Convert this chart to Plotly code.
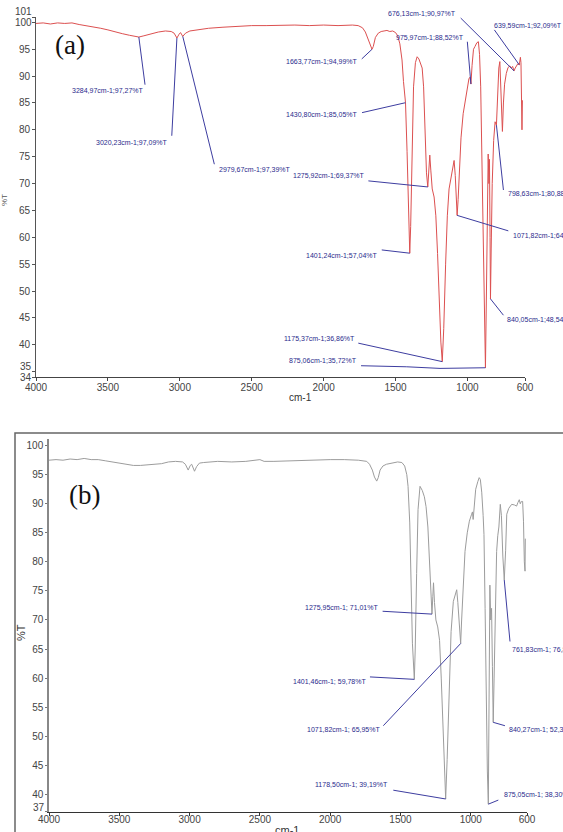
import plotly.graph_objects as go

# ---------------- data: spectrum (a) ----------------
wn_a = [4000, 3950, 3900, 3850, 3800, 3750, 3700, 3650, 3600, 3550, 3500, 3450, 3400, 3350, 3300,
        3284.97, 3250, 3200, 3150, 3100, 3060, 3040, 3020.23, 3005, 2995, 2979.67, 2960, 2930, 2900,
        2850, 2800, 2700, 2600, 2500, 2400, 2300, 2200, 2100, 2000, 1900, 1800, 1760, 1730, 1710,
        1690, 1675, 1663.77, 1655, 1640, 1620, 1600, 1580, 1560, 1540, 1520, 1500, 1485, 1470, 1455,
        1445, 1430.80, 1420, 1410, 1401.24, 1395, 1385, 1375, 1362, 1350, 1338, 1325, 1315, 1305,
        1295, 1285, 1275.92, 1268, 1262, 1255, 1245, 1232, 1220, 1208, 1195, 1185, 1175.37, 1165,
        1152, 1140, 1128, 1115, 1100, 1093, 1085, 1078, 1071.82, 1065, 1055, 1045, 1030, 1015, 1000,
        990, 982, 975.97, 968, 958, 948, 935, 924, 916, 908, 900, 892, 884, 875.06, 868, 862, 856,
        851, 847, 843, 840.05, 835, 828, 818, 808, 798.63, 790, 782, 775, 768, 762, 757, 750, 742,
        730, 718, 705, 695, 686, 676.13, 668, 660, 650, 639.59, 632, 628, 624, 621, 618]
t_a = [99.8, 99.9, 99.7, 99.9, 99.8, 99.9, 99.6, 99.4, 99.2, 98.9, 98.6, 98.2, 97.9, 97.6, 97.4,
       97.27, 97.5, 97.9, 98.2, 98.4, 98.3, 98.0, 97.09, 97.8, 98.1, 97.39, 98.0, 98.4, 98.5,
       98.8, 98.9, 99.1, 99.3, 99.4, 99.4, 99.5, 99.5, 99.4, 99.5, 99.4, 99.5, 99.4, 99.0, 98.2,
       96.8, 95.5, 94.99, 95.5, 97.2, 98.0, 98.3, 98.4, 98.5, 98.3, 98.4, 98.1, 97.5, 96.0, 93.0,
       89.0, 85.05, 76.0, 64.0, 57.04, 62.0, 76.0, 88.0, 92.5, 93.6, 93.2, 92.3, 91.5, 88.0,
       79.0, 72.0, 69.37, 72.0, 75.3, 72.5, 69.0, 67.5, 64.0, 57.0, 47.0, 40.5, 36.86, 43.0,
       55.0, 64.0, 69.0, 71.0, 73.0, 74.3, 71.5, 67.0, 64.08, 67.0, 73.0, 78.5, 83.0, 85.5, 87.5,
       89.5, 89.8, 88.52, 92.0, 95.0, 95.5, 96.2, 96.4, 94.0, 88.0, 75.0, 58.0, 42.0, 35.72, 50.0, 68.0, 75.5,
       70.0, 74.5, 60.0, 48.54, 58.0, 70.0, 78.0, 81.5, 80.88, 87.0, 91.5, 92.7, 88.0, 81.0, 79.7, 85.0, 88.5,
       90.5, 91.6, 91.9, 91.5, 91.8, 90.97, 91.5, 91.8, 92.3, 92.09, 93.5, 92.5, 84.0, 80.0, 85.5]

# ---------------- data: spectrum (b) ----------------
wn_b = [4000, 3950, 3900, 3850, 3800, 3750, 3700, 3650, 3600, 3550, 3500, 3450, 3400, 3350, 3300,
        3250, 3200, 3150, 3100, 3050, 3030, 3010, 2995, 2985, 2965, 2950, 2930, 2900, 2800, 2700,
        2600, 2500, 2470, 2400, 2300, 2200, 2100, 2000, 1900, 1800, 1740, 1720, 1700, 1685, 1669,
        1658, 1645, 1625, 1600, 1560, 1520, 1490, 1470, 1455, 1446, 1434, 1425, 1415, 1401.46, 1395,
        1385, 1375, 1361, 1345, 1330, 1318, 1305, 1295, 1285, 1275.95, 1270, 1265, 1258, 1248, 1235,
        1222, 1210, 1198, 1188, 1178.50, 1168, 1155, 1140, 1124, 1110, 1100, 1092, 1082, 1071.82,
        1065, 1055, 1041, 1025, 1010, 994, 988, 983, 975, 965, 950, 940, 932, 922, 912, 906, 898,
        890, 882, 875.05, 868, 864, 858, 852, 846, 840.27, 834, 826, 816, 808, 800, 790, 782, 772,
        761.83, 752, 744, 730, 709, 690, 674, 665, 655, 648, 640, 631, 625, 619, 614, 612]
t_b = [97.5, 97.6, 97.5, 97.7, 97.6, 97.8, 97.6, 97.6, 97.4, 97.2, 96.9, 96.8, 96.6, 96.6, 96.7,
       96.7, 96.9, 97.2, 97.3, 97.2, 96.8, 95.8, 96.6, 96.8, 95.6, 96.4, 97.0, 97.1, 97.3, 97.2,
       97.3, 97.6, 97.3, 97.3, 97.4, 97.4, 97.5, 97.6, 97.6, 97.5, 97.3, 96.8, 95.8, 94.6, 93.9,
       94.5, 95.8, 96.5, 96.8, 97.0, 97.2, 97.1, 96.5, 95.0, 93.0, 86.7, 77.0, 66.0, 59.78, 65.0,
       78.0, 89.0, 93.0, 92.3, 91.2, 89.5, 86.0, 80.0, 73.5, 71.01, 74.0, 76.4, 73.0, 70.0, 68.8,
       66.5, 60.0, 51.0, 44.0, 39.19, 46.0, 58.0, 68.0, 73.2, 74.5, 75.2, 73.0, 69.0, 65.95,
       70.0, 76.0, 81.8, 85.0, 87.0, 88.2, 88.6, 87.3, 90.0, 92.5, 93.8, 94.5, 94.2, 92.0, 88.0, 84.7, 72.0,
       56.0, 44.0, 38.30, 55.0, 76.0, 70.0, 72.0, 62.0, 52.38, 60.0, 72.0, 81.8, 84.5, 86.0, 89.9, 88.0, 81.0,
       76.88, 82.0, 88.2, 89.2, 89.9, 89.8, 89.6, 90.2, 90.7, 90.0, 90.4, 90.4, 87.0, 80.0, 78.4, 84.0]

# ---------------- peak labels ----------------
peaks_a_wn = [3284.97, 3020.23, 2979.67, 1663.77, 1430.80, 1275.92, 1401.24, 1071.82,
              798.63, 840.05, 1175.37, 875.06, 975.97, 676.13, 639.59]
peaks_a_t = [97.27, 97.09, 97.39, 94.99, 85.05, 69.37, 57.04, 64.08,
             80.88, 48.54, 36.86, 35.72, 88.52, 90.97, 92.09]
peaks_b_wn = [1275.95, 761.83, 1401.46, 1071.82, 840.27, 1178.50, 875.05]
peaks_b_t = [71.01, 76.88, 59.78, 65.95, 52.38, 39.19, 38.30]

xticks = [4000, 3500, 3000, 2500, 2000, 1500, 1000, 600]
yticks_a = [40, 45, 50, 55, 60, 65, 70, 75, 80, 85, 90, 95]
yticks_b = [40, 45, 50, 55, 60, 65, 70, 75, 80, 85, 90, 95, 100]

# label placement (layout only): text position, x-anchor, y-anchor, leader bend points
place_a = [
    ((3235, 87.4), "right", "middle", [(3242, 88.4)]),
    ((3068, 77.6), "right", "middle", [(3056, 78.9)]),
    ((2743, 72.7), "left", "middle", [(2760, 73.6)]),
    ((1747, 92.8), "right", "middle", [(1735, 93.2)]),
    ((1747, 82.8), "right", "middle", [(1733, 83.2)]),
    ((1700, 71.5), "right", "middle", [(1689, 70.5)]),
    ((1608, 56.7), "right", "middle", [(1596, 57.65)]),
    ((699, 60.3), "left", "middle", [(716, 61.2)]),
    ((732, 68.1), "left", "middle", [(750, 68.8)]),
    ((739, 44.7), "left", "middle", [(750, 45.5)]),
    ((1770, 41.1), "right", "middle", [(1759, 40.3)]),
    ((1754, 37.0), "right", "middle", [(1191, 35.6), (1422, 35.9), (1740, 36.1)]),
    ((1010, 97.1), "right", "middle", [(1001, 96.4)]),
    ((1063, 100.67), "right", "bottom", [(1047, 100.8)]),
    ((829, 99.5), "left", "middle", [(813, 98.6)]),
]
place_b = [
    ((1646, 72.2), "right", "middle", [(1456, 71.2), (1627, 71.5)]),
    ((721, 65.0), "left", "middle", [(721, 66.3)]),
    ((1729, 59.4), "right", "middle", [(1556, 60.0), (1717, 60.2)]),
    ((1634, 51.1), "right", "middle", [(1622, 51.8)]),
    ((745, 51.1), "left", "middle", [(757, 51.8)]),
    ((1575, 41.7), "right", "middle", [(1551, 40.7)]),
    ((780, 39.9), "left", "middle", [(804, 39.0)]),
]

W, H = 563, 832
SANS = "Liberation Sans, Arial, sans-serif"
SERIF = "Liberation Serif, Times New Roman, serif"
LABEL_C = "#2a2a8c"
LEADER_C = "#3d3da0"


def fmt(v):
    return f"{v:.2f}".replace(".", ",")


fig = go.Figure()
fig.add_trace(go.Scatter(x=wn_a, y=t_a, mode="lines", line=dict(color="#dc5050", width=1),
                         xaxis="x", yaxis="y", hoverinfo="skip"))
fig.add_trace(go.Scatter(x=wn_b, y=t_b, mode="lines", line=dict(color="#9c9c9c", width=1),
                         xaxis="x2", yaxis="y2", hoverinfo="skip"))

annotations = []


def add_labels(wns, ts, places, xr, yr, sep):
    for w, t, (tp, xanc, yanc, bends) in zip(wns, ts, places):
        xs = [w] + [b[0] for b in bends]
        ys = [t] + [b[1] for b in bends]
        fig.add_trace(go.Scatter(x=xs, y=ys, mode="lines", line=dict(color=LEADER_C, width=1),
                                 xaxis=xr, yaxis=yr, hoverinfo="skip"))
        annotations.append(dict(x=tp[0], y=tp[1], xref=xr, yref=yr, showarrow=False,
                                xanchor=xanc, yanchor=yanc,
                                text=f"{fmt(w)}cm-1;{sep}{fmt(t)}%T",
                                font=dict(family=SANS, size=7, color=LABEL_C)))


add_labels(peaks_a_wn, peaks_a_t, place_a, "x", "y", "")
add_labels(peaks_b_wn, peaks_b_t, place_b, "x2", "y2", " ")

axis_common = dict(showgrid=False, zeroline=False, showline=True, ticks="outside", automargin=False,
                   tickfont=dict(family=SANS, size=10, color="#444"))

# edge y tick labels (staggered, as in original)
for txt, xpx, ypx in [("101", 34, 12), ("100", 34, 23), ("35", 34, 367), ("34", 34, 377),
                      ("37", 47, 807)]:
    annotations.append(dict(x=xpx / W, y=1 - ypx / H, xref="paper", yref="paper", showarrow=False,
                            xanchor="right", yanchor="middle", text=txt,
                            font=dict(family=SANS, size=10, color="#444")))

annotations += [
    dict(x=70 / W, y=1 - 45 / H, xref="paper", yref="paper", showarrow=False, text="(a)",
         xanchor="center", yanchor="middle", font=dict(family=SERIF, size=27, color="#111")),
    dict(x=84 / W, y=1 - 495 / H, xref="paper", yref="paper", showarrow=False, text="(b)",
         xanchor="center", yanchor="middle", font=dict(family=SERIF, size=27, color="#111")),
    dict(x=300 / W, y=1 - 397 / H, xref="paper", yref="paper", showarrow=False, text="cm-1",
         xanchor="center", yanchor="middle", font=dict(family=SANS, size=10, color="#333")),
    dict(x=287 / W, y=1 - 830 / H, xref="paper", yref="paper", showarrow=False, text="cm-1",
         xanchor="center", yanchor="middle", font=dict(family=SANS, size=11, color="#333")),
    dict(x=21 / W, y=1 - 633 / H, xref="paper", yref="paper", showarrow=False, text="%T",
         textangle=-90, xanchor="center", yanchor="middle",
         font=dict(family=SANS, size=11, color="#333")),
    dict(x=4 / W, y=1 - 200 / H, xref="paper", yref="paper", showarrow=False, text="%T",
         textangle=-90, xanchor="center", yanchor="middle",
         font=dict(family=SANS, size=8, color="#555")),
]

fig.update_layout(
    width=W, height=H, margin=dict(l=0, r=0, t=0, b=0, autoexpand=False),
    paper_bgcolor="white", plot_bgcolor="white", showlegend=False,
    xaxis=dict(domain=[36 / W, 525 / W], range=[4000, 600], anchor="y",
               tickvals=xticks, ticklen=3, linecolor="#444", tickcolor="#444",
               ticklabelstandoff=-2, **axis_common),
    yaxis=dict(domain=[1 - 377 / H, 1 - 17 / H], range=[34, 101], anchor="x",
               tickvals=yticks_a + [34, 35, 100, 101],
               ticktext=[str(v) for v in yticks_a] + ["", "", "", ""],
               ticklen=3, linecolor="#555", tickcolor="#555", **axis_common),
    xaxis2=dict(domain=[49 / W, 527 / W], range=[4000, 600], anchor="y2",
                tickvals=xticks, ticklen=3, linecolor="#333", tickcolor="#333",
                ticklabelstandoff=-5, **axis_common),
    yaxis2=dict(domain=[1 - 811.7 / H, 1 - 438.7 / H], range=[37, 101.2], anchor="x2",
                tickvals=yticks_b + [37], ticktext=[str(v) for v in yticks_b] + [""],
                ticklen=2, linecolor="#888", linewidth=1.5, tickcolor="#777",
                **axis_common),
    annotations=annotations,
    shapes=[dict(type="rect", xref="paper", yref="paper", x0=15 / W, x1=1.05, y0=-0.05,
                 y1=1 - 433 / H, line=dict(color="#666", width=1.5))],
)

fig.write_html("out.html", config={"displayModeBar": False},
               post_script="document.body.style.margin='0';document.body.style.padding='0';")
